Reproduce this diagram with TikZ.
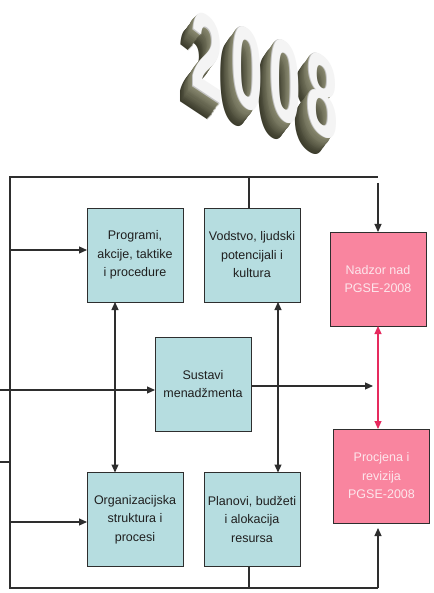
\documentclass[tikz,border=0pt]{standalone}
\usepackage{fontspec}
\setmainfont{Liberation Sans}
\usetikzlibrary{arrows.meta}
\definecolor{boxteal}{HTML}{B6DDE0}
\definecolor{boxpink}{HTML}{F9859F}
\definecolor{pinktext}{HTML}{FDE6EC}
\definecolor{linkred}{HTML}{E62A5E}
\definecolor{linegray}{HTML}{2E2E2E}
\definecolor{extrudefar}{HTML}{3C3C2C}
\definecolor{extrudenear}{HTML}{8C8C72}
\definecolor{facedark}{HTML}{C4C4C4}
\definecolor{facelight}{HTML}{F4F4F4}
\begin{document}
\begin{tikzpicture}[x=1pt,y=-1pt,
  every node/.style={inner sep=0pt, outer sep=0pt},
  box/.style={draw=linegray, line width=0.8pt, minimum width=96pt, minimum height=94pt,
    align=center, font=\fontsize{12.5}{18.5}\selectfont},
  teal box/.style={box, fill=boxteal, text=black!88},
  pink box/.style={box, fill=boxpink, text=pinktext},
  link/.style={draw=linegray, line width=1.1pt},
  arr/.style={link, -{Triangle[length=8pt,width=7pt]}},
  darr/.style={link, {Triangle[length=8pt,width=7pt]}-{Triangle[length=8pt,width=7pt]}},
  digit/.style={font=\fontsize{114}{114}\bfseries\selectfont, xscale=0.5, yslant=-0.33},
]
\fill[white] (0,0) rectangle (433,593);
\useasboundingbox (0,0) rectangle (433,593);

% extruded "2008" title: side faces first, then the front faces
\foreach \d/\x/\y in {2/206/56, 0/246/69, 0/284/82, 8/321/96} {
  \foreach \i in {14,13,...,1} {
    \pgfmathtruncatemacro\mix{100*(14-\i)/14}
    \node[digit, text=extrudenear!\mix!extrudefar] at (\x-0.8*\i, \y+1.1*\i) {\d};
  }
}
\foreach \d/\x/\y in {2/206/56, 0/246/69, 0/284/82, 8/321/96} {
  \node[digit, text=facedark] at (\x,\y) {\d};
  \node[digit, text=facelight] at (\x+1,\y-0.6) {\d};
}

% blocks
\node[teal box] (prog) at (135,255) {Programi,\\akcije, taktike\\i procedure};
\node[teal box] (vod)  at (252,255) {Vodstvo, ljudski\\potencijali i\\kultura};
\node[pink box] (nad)  at (378,279) {Nadzor nad\\PGSE-2008};
\node[teal box] (sus)  at (203,384) {Sustavi\\menadžmenta};
\node[teal box] (org)  at (135,519.5) {Organizacijska\\struktura i\\procesi};
\node[teal box] (plan) at (252,519.5) {Planovi, budžeti\\i alokacija\\resursa};
\node[pink box] (proc) at (381.5,476) {Procjena i\\revizija\\PGSE-2008};

% frame corners and free ends
\coordinate (tl) at (10,177);
\coordinate (tr) at (378,177);
\coordinate (bl) at (10,588);
\coordinate (br) at (378,588);
\coordinate (nadin) at (378,183);
\coordinate (procin) at (378,528);
\coordinate (susout) at (373,386);
\coordinate (susin) at (0,390);
\coordinate (stubl) at (0,462);
\coordinate (stubr) at (10,462);
\coordinate (fp) at (10,250);
\coordinate (fo) at (10,522);
\coordinate (dl) at (115,0);
\coordinate (dr) at (278,0);

% feedback frame
\draw[link] (br) -- (bl) -- (tl) -- (tr);
\draw[arr] (nadin) -- (nad.north);
\draw[arr] (br) -- (procin);
\draw[link] ([xshift=-3pt]vod.north) -- ([xshift=-3pt]vod.north |- tl);
\draw[link] ([xshift=-3pt]plan.south) -- ([xshift=-3pt]plan.south |- bl);
\draw[link] (stubl) -- (stubr);

% inputs into the blocks
\draw[arr] (fp) -- (fp -| prog.west);
\draw[arr] (fo) -- (fo -| org.west);
\draw[arr] (susin) -- (susin -| sus.west);
\draw[arr] (sus.east |- susout) -- (susout);

% two-way links
\draw[darr] (prog.south -| dl) -- (org.north -| dl);
\draw[darr] (vod.south -| dr) -- (plan.north -| dr);
\draw[darr, draw=linkred] (nad.south) -- (proc.north -| nad.south);
\end{tikzpicture}
\end{document}
